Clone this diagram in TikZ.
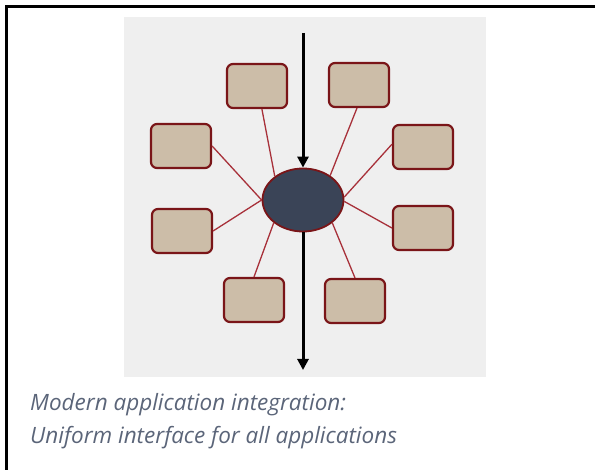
\documentclass[tikz,border=0pt]{standalone}
\usepackage{fontspec}
\setmainfont{Open Sans}
\usepackage{tikz}
\usetikzlibrary{arrows.meta,shapes.geometric}

\definecolor{appfill}{HTML}{CCBDA8}
\definecolor{appedge}{HTML}{7A1518}
\definecolor{hubfill}{HTML}{3A4457}
\definecolor{linkred}{HTML}{A8313A}
\definecolor{panelgray}{HTML}{EFEFEF}
\definecolor{captiongray}{HTML}{5B6579}

\begin{document}
\begin{tikzpicture}[x=1pt,y=-1pt,
    app/.style={draw=appedge,fill=appfill,line width=2.2pt,rounded corners=6pt,
      minimum width=60pt,minimum height=44pt,inner sep=0pt},
    hub/.style={ellipse,draw=appedge,fill=hubfill,line width=1.8pt,
      minimum width=81pt,minimum height=63pt,inner sep=0pt},
    link/.style={draw=linkred,line width=1.3pt},
    flow/.style={line width=3pt,-{Triangle[length=11pt,width=11pt]}}]
			\useasboundingbox (0,0) rectangle (595,470);
			\fill[panelgray] (124,17) rectangle (486,377);
			\draw[line width=2.6pt] (595,6.5) -| (6.5,470);
			% hub and applications
			\node[hub] (hub) at (303,200) {};
			\node[app] (tl) at (257,86) {};
			\node[app] (tr) at (359,85) {};
			\node[app] (lu) at (181,146) {};
			\node[app] (ru) at (423,147) {};
			\node[app] (ll) at (182,231) {};
			\node[app] (rl) at (423,228) {};
			\node[app] (bl) at (254,300) {};
			\node[app] (br) at (355,301) {};
			\coordinate (in) at (303,33);
			\coordinate (out) at (303,370);
			\path[link]
				(tl.-78) edge (hub.140)
				(tr.-95) edge (hub.42)
				(lu.east) edge (hub.west)
				(ru.175) edge (hub.4)
				(ll.east) edge (hub.west)
				(rl.west) edge (hub.-2)
				(bl.north) edge (hub.218)
				(br.north) edge (hub.-38);
			\draw[flow] (in) -- (hub.north);
			\draw[flow] (hub.south) -- (out);
			% caption, anchored on the baseline of its last line
			\node[anchor=base west,align=left,font=\fontsize{22.5}{32.7}\selectfont\itshape,
				text=captiongray,inner sep=0pt] (caption) at (30,443.3)
				{Modern application integration:\\Uniform interface for all applications};
		\end{tikzpicture}
\end{document}
